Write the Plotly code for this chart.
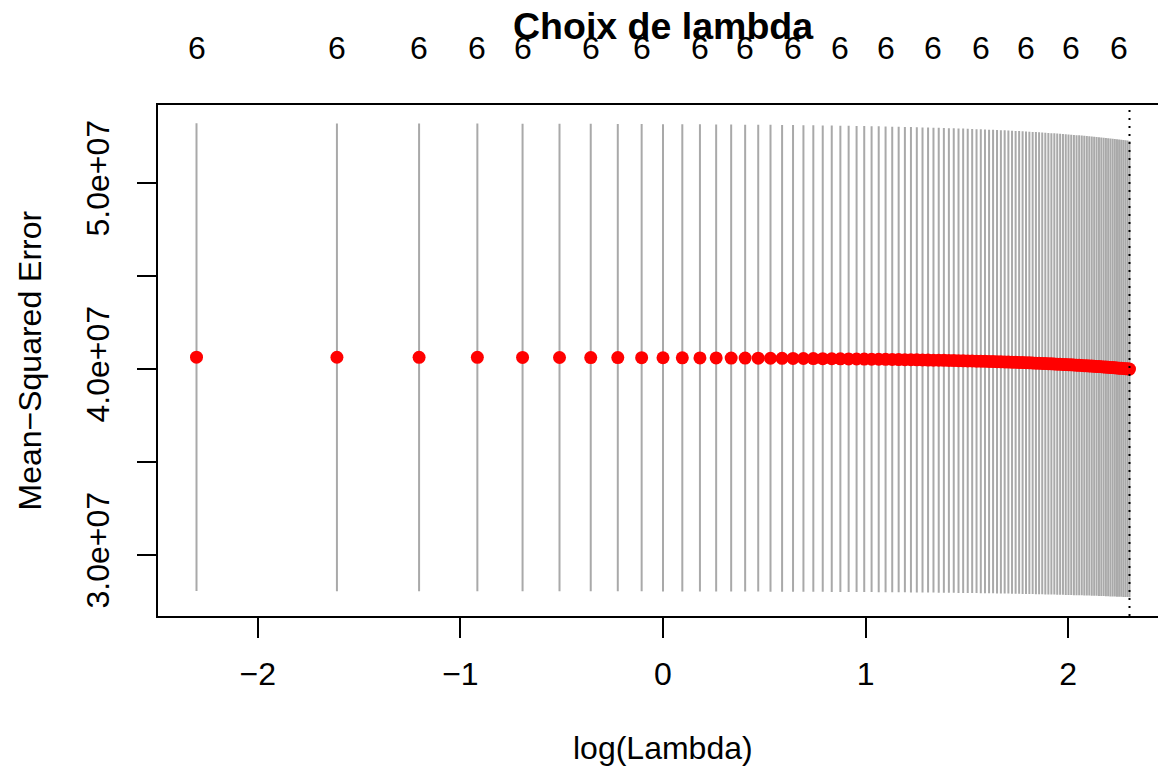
import numpy as np
import plotly.graph_objects as go

# lambda grid used by cv.glmnet
lambdas = [0.1, 0.2, 0.3, 0.4, 0.5, 0.6, 0.7, 0.8, 0.9, 1.0,
           1.1, 1.2, 1.3, 1.4, 1.5, 1.6, 1.7, 1.8, 1.9, 2.0,
           2.1, 2.2, 2.3, 2.4, 2.5, 2.6, 2.7, 2.8, 2.9, 3.0,
           3.1, 3.2, 3.3, 3.4, 3.5, 3.6, 3.7, 3.8, 3.9, 4.0,
           4.1, 4.2, 4.3, 4.4, 4.5, 4.6, 4.7, 4.8, 4.9, 5.0,
           5.1, 5.2, 5.3, 5.4, 5.5, 5.6, 5.7, 5.8, 5.9, 6.0,
           6.1, 6.2, 6.3, 6.4, 6.5, 6.6, 6.7, 6.8, 6.9, 7.0,
           7.1, 7.2, 7.3, 7.4, 7.5, 7.6, 7.7, 7.8, 7.9, 8.0,
           8.1, 8.2, 8.3, 8.4, 8.5, 8.6, 8.7, 8.8, 8.9, 9.0,
           9.1, 9.2, 9.3, 9.4, 9.5, 9.6, 9.7, 9.8, 9.9, 10.0]

# cross-validated MSE (x 1e7)
cvm_e7 = [4.0632, 4.0629, 4.0626, 4.0623, 4.0620, 4.0616, 4.0613, 4.0610, 4.0606, 4.0602,
          4.0599, 4.0595, 4.0591, 4.0588, 4.0584, 4.0580, 4.0576, 4.0571, 4.0567, 4.0563,
          4.0559, 4.0554, 4.0550, 4.0545, 4.0541, 4.0536, 4.0531, 4.0526, 4.0521, 4.0516,
          4.0511, 4.0506, 4.0501, 4.0496, 4.0491, 4.0485, 4.0480, 4.0474, 4.0469, 4.0463,
          4.0457, 4.0451, 4.0446, 4.0440, 4.0434, 4.0428, 4.0421, 4.0415, 4.0409, 4.0402,
          4.0396, 4.0390, 4.0383, 4.0376, 4.0370, 4.0363, 4.0356, 4.0349, 4.0342, 4.0335,
          4.0328, 4.0321, 4.0313, 4.0306, 4.0299, 4.0291, 4.0284, 4.0276, 4.0268, 4.0260,
          4.0253, 4.0245, 4.0237, 4.0229, 4.0221, 4.0212, 4.0204, 4.0196, 4.0187, 4.0179,
          4.0170, 4.0162, 4.0153, 4.0144, 4.0136, 4.0127, 4.0118, 4.0109, 4.0100, 4.0090,
          4.0081, 4.0072, 4.0063, 4.0053, 4.0044, 4.0034, 4.0024, 4.0015, 4.0005, 3.9995]

# cross-validated standard error (x 1e7)
cvsd_e7 = [1.2573, 1.2572, 1.2571, 1.2569, 1.2568, 1.2566, 1.2564, 1.2563, 1.2561, 1.2559,
           1.2558, 1.2556, 1.2554, 1.2552, 1.2550, 1.2548, 1.2546, 1.2544, 1.2542, 1.2540,
           1.2538, 1.2536, 1.2534, 1.2531, 1.2529, 1.2527, 1.2525, 1.2522, 1.2520, 1.2517,
           1.2515, 1.2513, 1.2510, 1.2508, 1.2505, 1.2502, 1.2500, 1.2497, 1.2495, 1.2492,
           1.2489, 1.2486, 1.2484, 1.2481, 1.2478, 1.2475, 1.2471, 1.2469, 1.2466, 1.2462,
           1.2459, 1.2456, 1.2453, 1.2450, 1.2447, 1.2443, 1.2440, 1.2437, 1.2433, 1.2430,
           1.2426, 1.2423, 1.2419, 1.2416, 1.2412, 1.2409, 1.2405, 1.2401, 1.2397, 1.2394,
           1.2390, 1.2386, 1.2382, 1.2379, 1.2375, 1.2370, 1.2366, 1.2363, 1.2358, 1.2354,
           1.2350, 1.2346, 1.2342, 1.2337, 1.2334, 1.2329, 1.2325, 1.2320, 1.2316, 1.2311,
           1.2307, 1.2303, 1.2298, 1.2293, 1.2289, 1.2284, 1.2279, 1.2275, 1.2270, 1.2265]

# number of non-zero coefficients, and the lambdas whose labels are displayed on top
nzero_value = 6
top_label_lambdas = [0.1, 0.2, 0.3, 0.4, 0.5, 0.7, 0.9, 1.2, 1.5, 1.9, 2.4, 3.0,
                     3.8, 4.8, 6.0, 7.5, 9.5]

x_tickvals = [-2, -1, 0, 1, 2]
x_ticktext = ["\u22122", "\u22121", "0", "1", "2"]
y_tickvals = [3.0e7, 3.5e7, 4.0e7, 4.5e7, 5.0e7]
y_ticktext = ["3.0e+07", "", "4.0e+07", "", "5.0e+07"]

title_text = "Choix de lambda"
x_title = "log(Lambda)"
y_title = "Mean\u2212Squared Error"

# ---------------------------------------------------------------
loglam = np.log(np.array(lambdas))
cvm = np.array(cvm_e7) * 1e7
cvsd = np.array(cvsd_e7) * 1e7
up = cvm + cvsd
lo = cvm - cvsd

seg_x, seg_y = [], []
for xv, l, u in zip(loglam, lo, up):
    seg_x += [xv, xv, None]
    seg_y += [l, u, None]

FONT = "Liberation Sans, Arial, Helvetica, sans-serif"
FS = 32
W, H = 1158, 770
ML, MT, MB, MR = 158, 105, 154, 0
px_per_unit = 202.6
x0 = -2.4926
x1 = x0 + (W - ML - MR) / px_per_unit
# R centres titles on the full plot region, which extends past the window edge
x_center = 0.0

fig = go.Figure()
fig.add_trace(go.Scatter(x=seg_x, y=seg_y, mode="lines",
                         line=dict(color="#A9A9A9", width=2),
                         hoverinfo="skip", showlegend=False))
fig.add_trace(go.Scatter(x=loglam, y=cvm, mode="markers",
                         marker=dict(color="#FF0000", size=13, line=dict(width=0)),
                         showlegend=False))

lam_min = lambdas[int(np.argmin(cvm))]
fig.add_shape(type="line", xref="x", yref="paper",
              x0=np.log(lam_min), x1=np.log(lam_min), y0=0, y1=1,
              line=dict(color="black", width=2, dash="2px,6px"))

for lv in top_label_lambdas:
    fig.add_annotation(x=float(np.log(lv)), y=1, xref="x", yref="paper",
                       yanchor="middle", yshift=MT - 48, showarrow=False,
                       text=str(nzero_value),
                       font=dict(family=FONT, size=FS, color="black"))

fig.add_annotation(x=x_center, y=1, xref="x", yref="paper", yanchor="middle",
                   yshift=MT - 26, showarrow=False,
                   text="<b>" + title_text + "</b>",
                   font=dict(family=FONT, size=37.5, color="black"))
fig.add_annotation(x=x_center, y=0, xref="x", yref="paper", yanchor="middle",
                   yshift=-(748 - (H - MB)), showarrow=False, text=x_title,
                   font=dict(family=FONT, size=FS, color="black"))
fig.add_annotation(x=0, y=0.5, xref="paper", yref="paper", xanchor="center",
                   yanchor="middle", xshift=-(ML - 29), showarrow=False,
                   text=y_title, textangle=-90,
                   font=dict(family=FONT, size=FS, color="black"))

fig.update_layout(
    width=W, height=H,
    margin=dict(l=ML, r=MR, t=MT, b=MB, pad=0),
    paper_bgcolor="white", plot_bgcolor="white",
    font=dict(family=FONT, size=FS, color="black"),
    xaxis=dict(range=[x0, x1], tickvals=x_tickvals, ticktext=x_ticktext,
               showgrid=False, zeroline=False, showline=True, mirror=True,
               linecolor="black", linewidth=1.6, ticks="outside", ticklen=20,
               tickwidth=1.6, tickcolor="black", ticklabelstandoff=9,
               tickfont=dict(family=FONT, size=FS)),
    yaxis=dict(range=[2.672e7, 5.419e7], tickvals=y_tickvals, ticktext=y_ticktext,
               showgrid=False, zeroline=False, showline=True, mirror=False,
               linecolor="black", linewidth=1.6, ticks="outside", ticklen=19,
               tickwidth=1.6, tickcolor="black", tickangle=-90,
               ticklabelstandoff=15, tickfont=dict(family=FONT, size=FS)),
)

fig.write_html("out.html")
